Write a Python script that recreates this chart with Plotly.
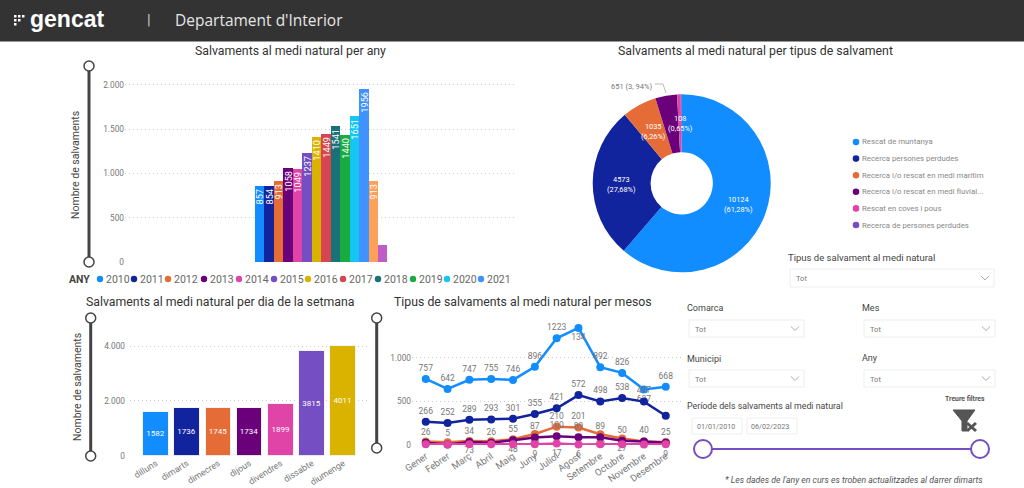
import plotly.graph_objects as go

W, H = 1024, 488
FONT = "Roboto"

palette = ["#118DFF", "#12239E", "#E66C37", "#6B007B", "#E044A7", "#744EC2", "#D9B300",
           "#D64550", "#197278", "#1AAB40", "#15C6F4", "#4092FF", "#FFA058", "#BE5DC9"]

years = [2010, 2011, 2012, 2013, 2014, 2015, 2016, 2017, 2018, 2019, 2020, 2021, 2022, 2023]
year_values = [857, 854, 913, 1058, 1049, 1237, 1410, 1449, 1541, 1440, 1651, 1956, 913, 197]
year_labels = ["857", "854", "913", "1058", "1049", "1237", "1410", "1449", "1541", "1440", "1651", "1956", "913", ""]

types = ["Rescat de muntanya", "Recerca persones perdudes", "Recerca i/o rescat en medi marítim",
         "Recerca i/o rescat en medi fluvial...", "Rescat en coves i pous", "Recerca de persones perdudes"]
type_values = [10124, 4573, 1035, 651, 108, 30]
type_pct = ["61,28%", "27,68%", "6,26%", "3,94%", "0,65%", "0,18%"]

days = ["dilluns", "dimarts", "dimecres", "dijous", "divendres", "dissabte", "diumenge"]
day_values = [1582, 1736, 1745, 1734, 1899, 3815, 4011]

months = ["Gener", "Febrer", "Març", "Abril", "Maig", "Juny", "Juliol", "Agost",
          "Setembre", "Octubre", "Novembre", "Desembre"]
muntanya = [757, 642, 747, 755, 746, 896, 1223, 1341, 892, 826, 637, 668]
perdudes = [266, 252, 289, 293, 301, 355, 421, 572, 498, 538, 497, 335]
maritim = [39, 31, 47, 44, 65, 126, 210, 201, 123, 75, 40, 34]
fluvial = [26, 5, 34, 26, 55, 87, 100, 89, 89, 50, 40, 25]
coves = [8, 6, 9, 8, 10, 9, 17, 6, 9, 10, 7, 9]

# text shown next to the points, the chart hides what overlaps
muntanya_text = ["757", "642", "747", "755", "746", "896", "1223", "134", "892", "826", "637", "668"]
muntanya_pos = ["top center"] * 7 + ["bottom center"] + ["top center"] * 2 + ["bottom center", "top center"]
perdudes_text = ["266", "252", "289", "293", "301", "355", "421", "572", "498", "538", "497", ""]
maritim_text = ["", "", "73", "", "48", "69", "210", "201", "60", "27", "", ""]
maritim_pos = ["bottom center"] * 6 + ["top center"] * 2 + ["bottom center"] * 4
coves_text = ["", "", "", "", "", "9", "17", "6", "", "", "", "9"]


def px(x):
    return x / W


def py(y):
    return 1 - y / H


def text(x, y, s, size=9, color="#666666", anchor="left", angle=0, **kw):
    # annotations carry a small pad, pull left aligned ones back
    if anchor == "left":
        x -= 1.5
    return dict(x=px(x), y=py(y), xref="paper", yref="paper", text=s, showarrow=False,
                xanchor=anchor, yanchor="middle", textangle=angle,
                font=dict(family=kw.pop("family", FONT), size=size, color=color), **kw)


def rect(x0, y0, x1, y1, fill="rgba(0,0,0,0)", line="#eeeeee", width=1):
    return dict(type="rect", xref="paper", yref="paper", x0=px(x0), x1=px(x1), y0=py(y0), y1=py(y1),
                fillcolor=fill, line=dict(color=line, width=width))


def circle(x, y, r, fill, line=None, width=0):
    return dict(type="circle", xref="paper", yref="paper", x0=px(x - r), x1=px(x + r), y0=py(y - r), y1=py(y + r),
                fillcolor=fill, line=dict(color=line or fill, width=width))


def seg(x0, y0, x1, y1, color, width):
    return dict(type="line", xref="paper", yref="paper", x0=px(x0), x1=px(x1), y0=py(y0), y1=py(y1),
                line=dict(color=color, width=width))


def path(points, color, width=1, fill="rgba(0,0,0,0)", close=False):
    d = "M" + " L".join(f"{px(x):.5f},{py(y):.5f}" for x, y in points) + (" Z" if close else "")
    return dict(type="path", xref="paper", yref="paper", path=d, fillcolor=fill, line=dict(color=color, width=width))


def slider(x, y0, y1):
    return [seg(x, y0, x, y1, "#444444", 3),
            circle(x, y0, 5, "white", "#444444", 1.5),
            circle(x, y1, 5, "white", "#444444", 1.5)]


def dropdown(x0, y0, x1, y1):
    mid = (y0 + y1) / 2
    cx = x1 - 9
    return [rect(x0, y0, x1, y1),
            path([(cx - 4, mid - 2), (cx, mid + 2), (cx + 4, mid - 2)], "#aaaaaa", 1)]


fig = go.Figure()

fig.add_trace(go.Bar(x=years, y=year_values, marker=dict(color=palette, line_width=0), text=year_labels,
                     textposition="inside", insidetextanchor="end", textangle=-90, constraintext="none",
                     insidetextfont=dict(family=FONT, size=9.2, color="white"), xaxis="x", yaxis="y"))

fig.add_trace(go.Pie(labels=types, values=type_values, marker=dict(colors=palette[:6]), hole=0.35, sort=False,
                     direction="clockwise", rotation=0, textinfo="none",
                     domain=dict(x=[px(592.7), px(770.7)], y=[py(272.3), py(94.3)])))

fig.add_trace(go.Bar(x=days, y=day_values, marker=dict(color=palette[:7], line=dict(color="#f3f3f3", width=1)),
                     width=0.82, text=day_values, textposition="inside", insidetextanchor="middle", textangle=0,
                     constraintext="none", insidetextfont=dict(family=FONT, size=8, color="white"),
                     xaxis="x2", yaxis="y2"))

line_series = [
    (muntanya, palette[0], muntanya_text, muntanya_pos),
    (perdudes, palette[1], perdudes_text, "top center"),
    (maritim, palette[2], maritim_text, maritim_pos),
    (fluvial, palette[3], fluvial, "top center"),
    (coves, palette[4], coves_text, "bottom center"),
]
for vals, col, labels, pos in line_series:
    fig.add_trace(go.Scatter(x=months, y=vals, mode="lines+markers+text", cliponaxis=False,
                             line=dict(color=col, width=2.5), marker=dict(color=col, size=8),
                             text=labels, textposition=pos,
                             textfont=dict(family=FONT, size=8.5, color="#777777"),
                             xaxis="x3", yaxis="y3"))

annotations = [
    text(174, 20, "Departament d'Interior", 15.5, "#e6e6e6", family="Open Sans"),
    text(29, 19, "<b>gencat</b>", 23, "white", family="Liberation Sans"),
    text(146, 20, "|", 15, "#cccccc"),
    text(290, 51, "Salvaments al medi natural per any", 12.3, "#333333", "center"),
    text(755, 51, "Salvaments al medi natural per tipus de salvament", 12.3, "#333333", "center"),
    text(220, 302, "Salvaments al medi natural per dia de la setmana", 12.3, "#333333", "center"),
    text(523, 302, "Tipus de salvaments al medi natural per mesos", 12.3, "#333333", "center"),
    text(75, 165, "Nombre de salvaments", 10.5, "#444444", "center", -90),
    text(77, 387, "Nombre de salvaments", 10.5, "#444444", "center", -90),
    text(68, 279, "<b>ANY</b>", 10.5, "#444444"),
]

# legend of the year chart
year_legend_x = [100, 134, 168, 204, 239, 274, 308, 343, 378, 413, 447, 481]
shapes = [rect(0, 0, W, 41, "#333333", "#333333")]
for i, x in enumerate(year_legend_x):
    shapes.append(circle(x, 279, 3.2, palette[i]))
    annotations.append(text(x + 5, 279, str(years[i]), 10.5, "#666666"))

# legend of the donut
for i, name in enumerate(types):
    y = 142 + i * 16.6
    shapes.append(circle(856, y, 3.3, palette[i]))
    annotations.append(text(861, y, name, 7.8, "#888888"))

# donut labels
pie_label_xy = [(738, 204), (621, 184), (653, 131), None, (680, 124)]
for i, xy in enumerate(pie_label_xy):
    if xy:
        annotations.append(text(xy[0], xy[1], f"{type_values[i]}<br>({type_pct[i]})", 7.4, "white", "center"))
annotations.append(text(632, 86, f"{type_values[3]} ({type_pct[3].replace(',', ', ')})", 7.5, "#777777", "center"))
shapes.append(path([(655, 84), (663, 84), (666, 93)], "#bbbbbb", 1))

shapes += slider(89, 66, 262) + slider(90.7, 318, 456) + slider(376.7, 318, 448)

# logo dots
for dx, dy in [(14, 15), (18, 15), (22, 15), (14, 19), (18, 19), (14, 23)]:
    shapes.append(rect(dx, dy, dx + 2.5, dy + 2.5, "white", "white", 0))

# slicers
annotations += [
    text(787, 257, "Tipus de salvament al medi natural", 9.5, "#444444"),
    text(686, 307.5, "Comarca", 9, "#444444"),
    text(861, 307.5, "Mes", 9, "#444444"),
    text(686, 358.5, "Municipi", 9, "#444444"),
    text(861, 358, "Any", 9, "#444444"),
    text(686, 406, "Període dels salvaments al medi natural", 8.8, "#444444"),
    text(965, 399, "<b>Treure filtres</b>", 6.8, "#555555", "center"),
    text(716, 426, "01/01/2010", 7.2, "#777777", "center"),
    text(770, 426, "06/02/2023", 7.2, "#777777", "center"),
    text(853.5, 480, "<i>* Les dades de l'any en curs es troben actualitzades al darrer dimarts</i>", 8.7, "#555555", "center"),
]
for x0, y0, x1, y1 in [(790, 269, 994, 287), (689, 320, 804, 337), (864, 320, 995, 337),
                       (689, 370, 804, 387), (864, 370, 995, 387)]:
    shapes += dropdown(x0, y0, x1, y1)
    annotations.append(text(x0 + 5, (y0 + y1) / 2 + 0.5, "Tot", 7.5, "#777777"))
shapes += [rect(692, 418, 742, 434), rect(747, 418, 797, 434)]
shapes += [seg(703, 449, 980, 449, "#744EC2", 2),
           circle(703, 449, 9, "white", "#744EC2", 2),
           circle(980, 449, 9, "white", "#744EC2", 2)]

# funnel icon
shapes += [
    path([(953, 410), (975, 410), (967, 421), (967, 431), (962, 431), (962, 421)], "#555555", 1, "#555555", True),
    seg(967, 423, 976, 431, "#555555", 3),
    seg(976, 423, 967, 431, "#555555", 3),
]


def grid_axis(top, bottom, rng, vals, standoff=0):
    return dict(domain=[py(bottom), py(top)], range=rng, tickvals=vals, tickformat=",d", showgrid=True,
                griddash="1px,3px", gridcolor="#cccccc", gridwidth=1, zeroline=False, showline=False, ticks="",
                tickfont=dict(family=FONT, size=8.3, color="#777777"), ticklabelstandoff=standoff, fixedrange=True)


fig.update_layout(
    width=W, height=H, autosize=False, margin=dict(l=0, r=0, t=0, b=0, autoexpand=False),
    paper_bgcolor="white", plot_bgcolor="white", showlegend=False, separators=",.", bargap=0.0,
    xaxis=dict(domain=[px(125), px(517)], range=[1995.75, 2037.2], showticklabels=False, showgrid=False,
               zeroline=False, ticks=""),
    yaxis=grid_axis(70, 262, [0, 2169], [0, 500, 1000, 1500, 2000]),
    xaxis2=dict(domain=[px(130), px(367)], range=[-0.83, 6.76], type="category", showgrid=False, zeroline=False,
                ticks="", tickangle=-32, tickfont=dict(family=FONT, size=8.8, color="#777777")),
    yaxis2=grid_axis(318, 455.7, [0, 5022], [0, 2000, 4000], 4),
    xaxis3=dict(domain=[px(412), px(683)], range=[-0.63, 11.79], type="category", showgrid=False, zeroline=False,
                ticks="", tickangle=-35, ticklabelstandoff=3, tickfont=dict(family=FONT, size=9.5, color="#777777")),
    yaxis3=grid_axis(318, 445, [0, 1455], [0, 500, 1000]),
    annotations=annotations, shapes=shapes,
)
fig.update_layout(yaxis=dict(anchor="x"), yaxis2=dict(anchor="x2"), yaxis3=dict(anchor="x3"),
                  xaxis=dict(anchor="y"), xaxis2=dict(anchor="y2"), xaxis3=dict(anchor="y3"))

fig.write_html("out.html", config=dict(displayModeBar=False),
               post_script="document.body.style.margin='0';document.documentElement.style.overflow='hidden';")
